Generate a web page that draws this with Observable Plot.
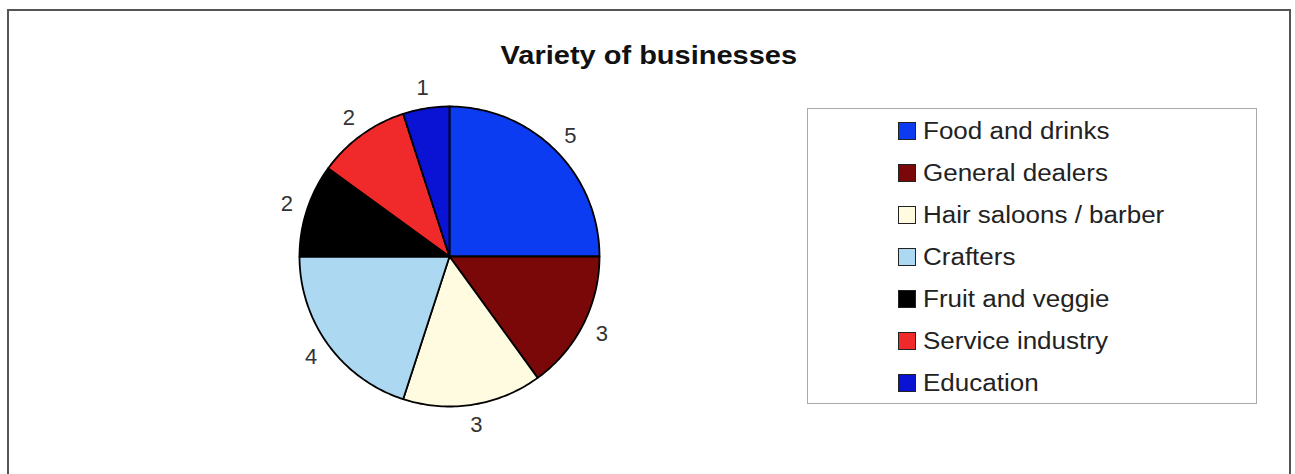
<!DOCTYPE html>
<html><head><meta charset="utf-8">
<script src="https://cdn.jsdelivr.net/npm/d3@7"></script>
<script src="https://cdn.jsdelivr.net/npm/@observablehq/plot@0.6"></script>
<style>
body{margin:0;background:#fff;}
#wrap{position:relative;width:1295px;height:474px;overflow:hidden;background:#fff;font-family:"Liberation Sans",Arial,sans-serif;}
#wrap svg{position:absolute;left:0;top:0;}
#frame{position:absolute;left:7px;top:9px;width:1284px;height:520px;box-sizing:border-box;border:2px solid #555;border-bottom:none;}
#title{position:absolute;left:0;top:43px;width:1298px;text-align:center;line-height:25px;}
#title span{display:inline-block;font-weight:bold;font-size:25px;color:#111;transform:scaleX(1.16);}
#legend{position:absolute;left:807px;top:108px;width:450px;height:296px;box-sizing:border-box;border:1px solid #aaa;}
.row{position:absolute;left:898px;height:24px;line-height:24px;white-space:nowrap;}
.sw{position:absolute;left:0;top:3px;width:18px;height:18px;box-sizing:border-box;border:1px solid #222;}
.lt{position:absolute;left:25px;top:0;font-size:23px;color:#222;transform:scaleX(1.13);transform-origin:left center;}
</style></head><body><div id="wrap"></div><script>
const categories = ["Food and drinks","General dealers","Hair saloons / barber","Crafters","Fruit and veggie","Service industry","Education"];
const values = [5,3,3,4,2,2,1];
const colors = ["#0c3cf2","#7a0808","#fffbe0","#acd8f2","#000000","#f02a2a","#0a12d4"];
const chartTitle = "Variety of businesses";

const data = categories.map((c,i)=>({cat:c, value:values[i]}));
const arcs = d3.pie().sort(null).value(d=>d.value)(data);

// polygon vertices for each slice (unit circle, clockwise from 12 o'clock)
const pts = [];
for (const a of arcs) {
  const cat = a.data.cat;
  pts.push({cat, x:0, y:0});
  const n = Math.max(2, Math.ceil((a.endAngle - a.startAngle) * 180 / Math.PI));
  for (let k=0;k<=n;k++){
    const t = a.startAngle + (a.endAngle - a.startAngle)*k/n;
    pts.push({cat, x:Math.sin(t), y:Math.cos(t)});
  }
  pts.push({cat, x:0, y:0});
}
const labelR = 1.14;
const labels = arcs.map(a=>{
  const m = (a.startAngle + a.endAngle)/2;
  return {cat:a.data.cat, x:labelR*Math.sin(m), y:labelR*Math.cos(m), text:String(a.data.value)};
});

const plot = Plot.plot({
  width:1295, height:474,
  x:{domain:[-1,1], range:[299,599], axis:null},
  y:{domain:[-1,1], range:[406,106], axis:null},
  color:{domain:categories, range:colors},
  style:{background:"transparent", fontFamily:"'Liberation Sans', Arial, sans-serif"},
  marks:[
    Plot.line(pts, {x:"x", y:"y", z:"cat", fill:"cat", stroke:"#000", strokeWidth:1.8, curve:"linear", strokeLinejoin:"round"}),
    Plot.text(labels, {x:"x", y:"y", text:"text", fontSize:22, fill:"#333"})
  ]
});

const wrap = document.getElementById("wrap");
wrap.appendChild(plot);

const frame = document.createElement("div"); frame.id="frame"; wrap.appendChild(frame);
const title = document.createElement("div"); title.id="title";
const ts = document.createElement("span"); ts.textContent = chartTitle; title.appendChild(ts);
wrap.appendChild(title);
const legend = document.createElement("div"); legend.id="legend"; wrap.appendChild(legend);
categories.forEach((c,i)=>{
  const row = document.createElement("div"); row.className="row";
  row.style.top = (118.5 + i*42.1) + "px";
  const sw = document.createElement("div"); sw.className="sw"; sw.style.background = colors[i];
  const lt = document.createElement("div"); lt.className="lt"; lt.textContent = c;
  row.appendChild(sw); row.appendChild(lt); wrap.appendChild(row);
});
</script></body></html>
